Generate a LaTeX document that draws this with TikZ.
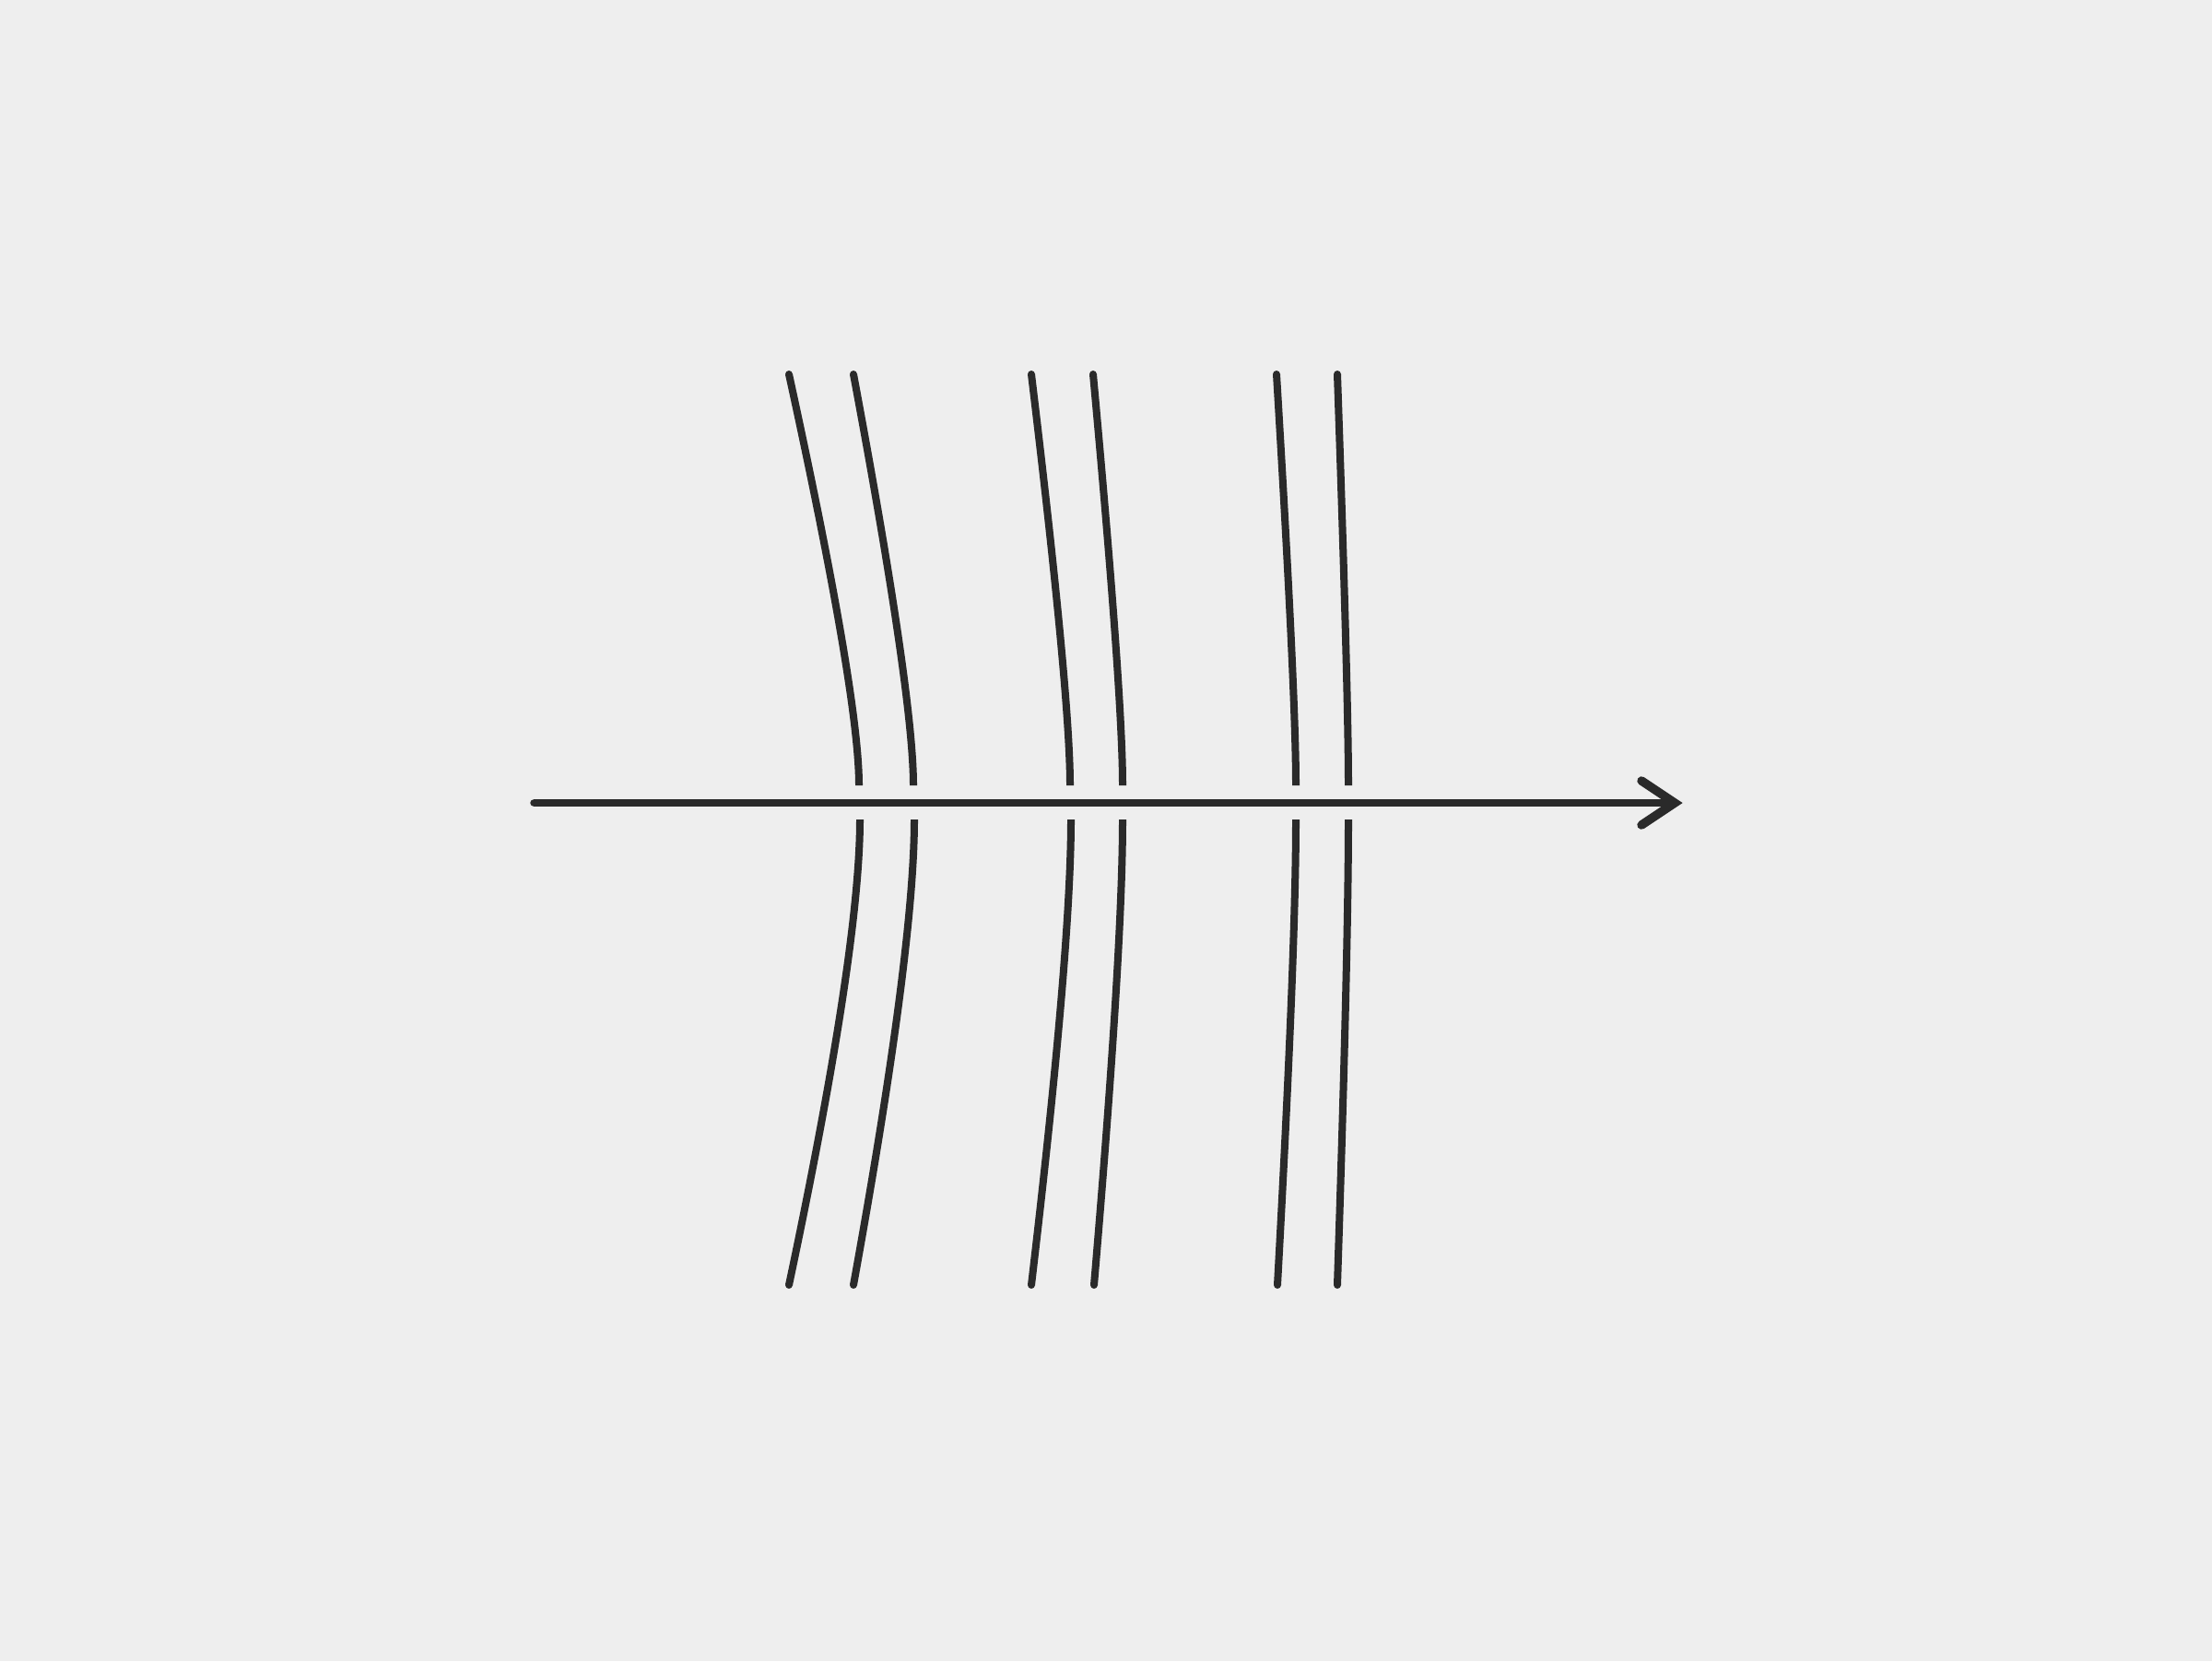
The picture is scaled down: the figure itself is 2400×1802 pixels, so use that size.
\documentclass[tikz,border=0pt]{standalone}
\usetikzlibrary{calc}
\definecolor{bgc}{RGB}{238,238,238}
\definecolor{ink}{RGB}{42,42,42}
\tikzset{
  rib/.style={draw=ink, line width=0.08cm, line cap=butt},
  spine/.style={draw=ink, line width=0.075cm, line cap=butt},
  barb/.style={draw=ink, line width=0.095cm, line cap=round, line join=miter},
}
% upper rib: top x, gap x ; lower rib: gap x, bottom x
\newcommand\ribUp[2]{%
  \draw[rib] (#1,406) .. controls ($(#1,406)!0.6667!(#2,754)$) and ($(#2,852)!0.6667!(#2,754)$) .. (#2,852);
  \fill[ink] (#1,406) circle[radius=0.04cm];}
\newcommand\ribDown[2]{%
  \draw[rib] (#1,889) .. controls ($(#1,889)!0.6667!(#1,1030)$) and ($(#2,1394)!0.6667!(#1,1030)$) .. (#2,1394);
  \fill[ink] (#2,1394) circle[radius=0.04cm];}
\begin{document}
\begin{tikzpicture}[x=0.01cm,y=-0.01cm]
\fill[bgc] (0,0) rectangle (2400,1802);
\useasboundingbox (0,0) rectangle (2400,1802);
% spine
\coordinate (tail) at (579,871);
\coordinate (tip) at (1817,871);
\coordinate (bU) at (1781,847);
\coordinate (bL) at (1781,895);
\draw[spine] (tail) -- (tip);
\fill[ink] (tail) circle[radius=0.0375cm];
\draw[barb] (bU) -- (tip) -- (bL);
% ribs
\ribUp{856}{932}   \ribDown{933}{856}
\ribUp{926}{991}   \ribDown{992}{926}
\ribUp{1119}{1161} \ribDown{1162}{1119}
\ribUp{1186}{1218} \ribDown{1218}{1187}
\ribUp{1385}{1406} \ribDown{1406}{1386}
\ribUp{1451}{1463} \ribDown{1463}{1451}
\end{tikzpicture}
\end{document}
